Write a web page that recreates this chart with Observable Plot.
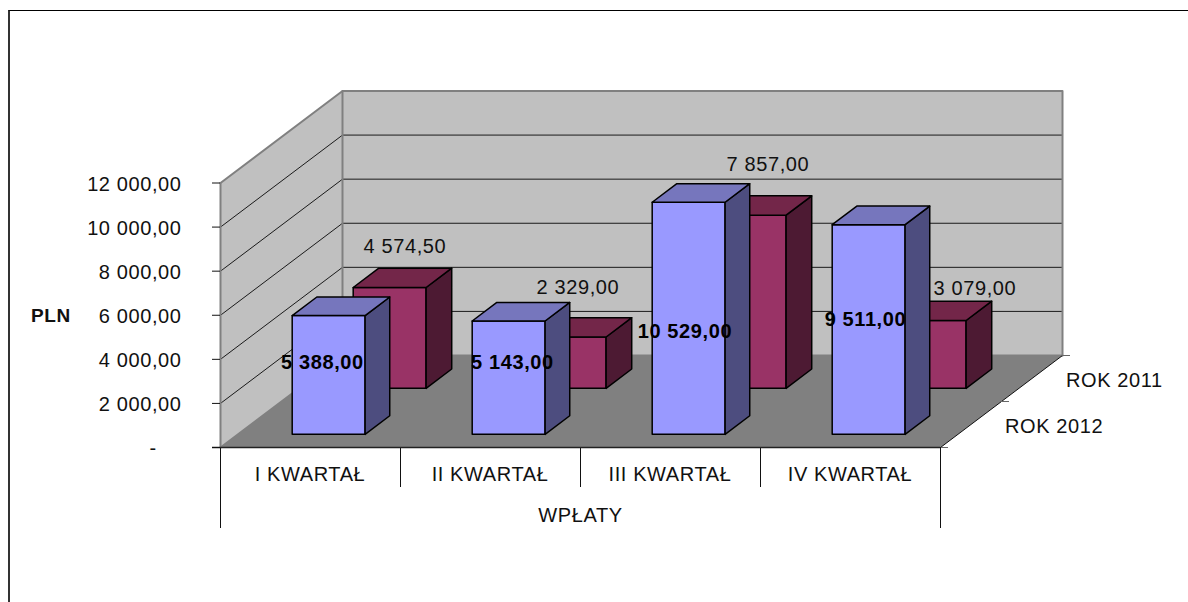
<!DOCTYPE html>
<html>
<head>
<meta charset="utf-8">
<script src="https://cdn.jsdelivr.net/npm/d3@7"></script>
<script src="https://cdn.jsdelivr.net/npm/@observablehq/plot@0.6"></script>
<style>
  html, body { margin: 0; padding: 0; background: #fff; overflow: hidden; }
  #frame { position: absolute; left: 8px; top: 10px; width: 1180px; height: 592px; box-sizing: border-box;
           border-top: 1px solid #000; border-left: 2px solid #333; }
  #chart { position: absolute; left: 0; top: 0; }
</style>
</head>
<body>
<div id="frame"></div>
<div id="chart"></div>
<script>
// --- data ---
const categories = ["I KWARTAŁ", "II KWARTAŁ", "III KWARTAŁ", "IV KWARTAŁ"];
const rok2012 = [5388.0, 5143.0, 10529.0, 9511.0];
const rok2011 = [4574.5, 2329.0, 7857.0, 3079.0];
const seriesNames = ["ROK 2012", "ROK 2011"];
const yTicks = [0, 2000, 4000, 6000, 8000, 10000, 12000];
const groupLabel = "WPŁATY";
const axisTitle = "PLN";

// --- scale geometry (pixels per data unit) ---
const W = 1188, H = 602;
const pxPerCat = 180, pxPerValue = 264.5 / 12000;
const originX = 220, originY = 447;
const DX = 122 / pxPerCat, DY = 92 / pxPerValue;   // oblique shift of the full depth
const px = (d) => d / pxPerCat, pv = (d) => d / pxPerValue;
const project = (c, depth, v) => ({x: c + depth * DX, y: v + depth * DY});

const fmt = (v) => v === 0 ? "-\u00a0\u00a0\u00a0\u00a0"
  : d3.format(",.2f")(v).replace(/,/g, "\u00a0").replace(".", ",");

// --- build faces ---
function polygon(id, fill, corners) {
  return [...corners, corners[0]].map(([c, d, v]) => ({id, fill, ...project(c, d, v)}));
}
const barWidth = 0.405, barShift = px(0.7);
const palettes = [
  {front: "#9999FF", top: "#7676BD", side: "#4D4D7F", d0: 0.143, d1: 0.345},
  {front: "#993366", top: "#732649", side: "#4D1A33", d0: 0.643, d1: 0.853}
];
function bar(i, v, p, key) {
  const c0 = i + 0.5 + barShift - barWidth / 2, c1 = i + 0.5 + barShift + barWidth / 2;
  return [
    ...polygon(`${key}${i}f`, p.front, [[c0, p.d0, 0], [c1, p.d0, 0], [c1, p.d0, v], [c0, p.d0, v]]),
    ...polygon(`${key}${i}s`, p.side, [[c1, p.d0, 0], [c1, p.d1, 0], [c1, p.d1, v], [c1, p.d0, v]]),
    ...polygon(`${key}${i}t`, p.top, [[c0, p.d0, v], [c1, p.d0, v], [c1, p.d1, v], [c0, p.d1, v]])
  ];
}
const walls = [
  ...polygon("left", "#C0C0C0", [[0, 0, 0], [0, 1, 0], [0, 1, 12000], [0, 0, 12000]]),
  ...polygon("back", "#C0C0C0", [[0, 1, 0], [4, 1, 0], [4, 1, 12000], [0, 1, 12000]]),
  ...polygon("floor", "#808080", [[0, 0, 0], [4, 0, 0], [4, 1, 0], [0, 1, 0]])
];
const gridRows = yTicks.slice(1, -1).flatMap((v) =>
  [[0, 0], [0, 1], [4, 1]].map(([c, d]) => ({id: v, ...project(c, d, v)})));
const wallEdges = [
  [[0, 0, 12000], [0, 1, 12000], [4, 1, 12000], [4, 1, 0]],
  [[0, 1, 12000], [0, 1, 0]],
  [[0, 0, 0], [0, 1, 0], [4, 1, 0]],
  [[0, 0, 0], [0, 0, 12000]]
].flatMap((pts, k) => pts.map(([c, d, v]) => ({id: k, ...project(c, d, v)})));

const backBars = rok2011.flatMap((v, i) => bar(i, v, palettes[1], "b"));
const frontBars = rok2012.flatMap((v, i) => bar(i, v, palettes[0], "a"));

// --- hand-placed data labels, pixel nudges from each bar's front-top centre ---
const nudgeBack = [[16, -40.5], [9, -49], [19, -51], [46, -32]];
const nudgeFront = [[-5.5, 47.5], [4.5, 41.5], [-3, 129.5], [-2.5, 94.5]];
function valueLabels(values, p, nudge) {
  return values.map((v, i) => {
    const q = project(i + 0.5, p.d0, v);
    return {x: q.x + px(nudge[i][0]), y: q.y - pv(nudge[i][1]), t: fmt(v)};
  });
}

const depthTicks = [0, 0.5, 1].map((d) => ({...project(4, d, 0), x2: 4 + d * DX + px(8)}));

const chart = Plot.plot({
  width: W, height: H,
  marginTop: 0, marginRight: 0, marginBottom: 0, marginLeft: 0,
  x: {domain: [-originX / pxPerCat, (W - originX) / pxPerCat], range: [0, W], axis: null},
  y: {domain: [originY / pxPerValue, (originY - H) / pxPerValue], range: [0, H]},
  color: {type: "identity"},
  style: {fontFamily: "'Liberation Sans', Arial, sans-serif", background: "transparent", fontSize: "20px", letterSpacing: "0.6px", color: "#111"},
  marks: [
    Plot.line(walls, {x: "x", y: "y", z: "id", fill: "fill", stroke: null}),
    Plot.line(gridRows, {x: "x", y: "y", z: "id", stroke: "#1a1a1a", strokeWidth: 1}),
    Plot.line(wallEdges, {x: "x", y: "y", z: "id", stroke: "#808080", strokeWidth: 2}),
    // floor edges
    Plot.line([project(4, 0, 0), project(4, 1, 0)], {x: "x", y: "y", stroke: "#111", strokeWidth: 1}),
    Plot.ruleY(depthTicks, {y: "y", x1: "x", x2: "x2", stroke: "#666", strokeWidth: 1}),
    // category dividers
    Plot.ruleX([0, 1, 2, 3, 4], {x: (d) => d, y1: 0, y2: (d) => pv(d === 0 || d === 4 ? -81 : -40), stroke: "#111", strokeWidth: 1}),
    Plot.ruleY([0], {x1: px(-8), x2: 4, stroke: "#222", strokeWidth: 1.5}),
    // value axis: tick marks, then labels nudged down a little
    Plot.axisY(yTicks, {x: 0, anchor: "left", tickSize: 8, tickFormat: () => "", label: null, stroke: "#111"}),
    Plot.axisY(yTicks, {x: 0, anchor: "left", tickSize: 0, tickPadding: 39, tickFormat: fmt, label: null,
                        dy: 1.5, fontSize: 20, fill: "#111"}),
    // bars
    Plot.line(backBars, {x: "x", y: "y", z: "id", fill: "fill", stroke: "#000", strokeWidth: 1.5}),
    Plot.line(frontBars, {x: "x", y: "y", z: "id", fill: "fill", stroke: "#000", strokeWidth: 1.5}),
    // text
    Plot.text(categories, {x: (d, i) => i + 0.5, y: 0, dy: 27, dx: -0.5, text: (d) => d, fontSize: 20, fill: "#111", style: {letterSpacing: "0.4px"}}),
    Plot.text([groupLabel], {x: 2, y: 0, dy: 68, text: (d) => d, fontSize: 20, fill: "#111"}),
    Plot.text([axisTitle], {x: 0, y: 6000, dx: -169.5, dy: 1, text: (d) => d, fontSize: 19, fontWeight: "bold", fill: "#111"}),
    Plot.text(seriesNames, {x: (d, i) => 4 + (i === 0 ? 0.25 : 0.75) * DX, y: (d, i) => (i === 0 ? 0.25 : 0.75) * DY,
                            dx: 34, dy: 2, textAnchor: "start", text: (d) => d, fontSize: 20, fill: "#111"}),
    Plot.text(valueLabels(rok2011, palettes[1], nudgeBack), {x: "x", y: "y", text: "t", fontSize: 20, fill: "#111"}),
    Plot.text(valueLabels(rok2012, palettes[0], nudgeFront), {x: "x", y: "y", text: "t", fontSize: 20, fontWeight: "bold", fill: "#000"})
  ]
});
document.getElementById("chart").appendChild(chart);
</script>
</body>
</html>
